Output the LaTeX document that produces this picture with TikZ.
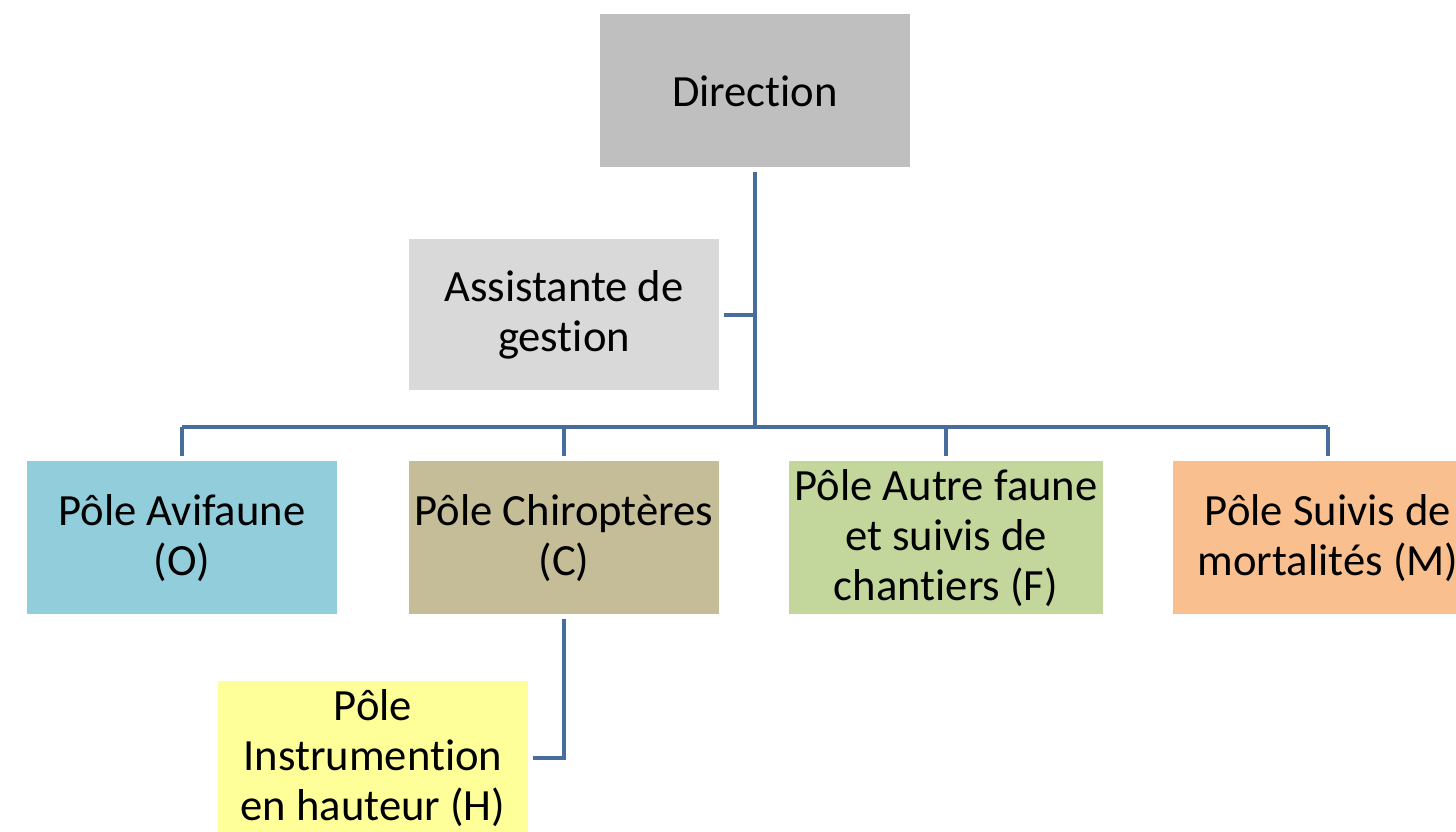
\documentclass[tikz,border=0pt]{standalone}
\usepackage{fontspec}
\setmainfont{Carlito}[Ligatures=NoCommon]
\usepackage{tikz}
\usetikzlibrary{positioning,calc}
\usepackage{xcolor}
\definecolor{dirgray}{RGB}{191,191,191}
\definecolor{assgray}{RGB}{217,217,217}
\definecolor{aviblue}{RGB}{146,205,220}
\definecolor{chitan}{RGB}{196,189,151}
\definecolor{autgreen}{RGB}{195,214,155}
\definecolor{suiorange}{RGB}{250,191,143}
\definecolor{hauyellow}{RGB}{255,255,153}
\definecolor{linkblue}{RGB}{72,108,156}

\begin{document}
\begin{tikzpicture}[every node/.style={font=\fontsize{25.4}{28.5}\selectfont},
    orgbox/.style={minimum width=6.2cm, minimum height=3.06cm, align=center, outer sep=0.1cm},
    link/.style={draw=linkblue, line width=2.3pt, line join=miter}]
    \useasboundingbox (0,0) rectangle (29.12,16.64);
    \clip (0,0) rectangle (29.12,16.64);
    \node[orgbox, fill=dirgray] (dir) at (15.1,14.82) {Direction};
    \node[orgbox, fill=assgray, minimum height=3.02cm] (ass) at (11.28,10.34) {Assistante de\\gestion};
    \node[orgbox, fill=aviblue] (avi) at (3.64,5.88) {Pôle Avifaune\\(O)};
    \node[orgbox, fill=chitan] (chi) at (11.28,5.88) {Pôle Chiroptères\\(C)};
    \node[orgbox, fill=autgreen] (aut) at (18.92,5.88) {Pôle Autre faune\\et suivis de\\chantiers (F)};
    \node[orgbox, fill=suiorange] (sui) at (26.56,5.88) {Pôle Suivis de\\mortalités (M)};
    \node[orgbox, fill=hauyellow] (hau) at (7.46,1.48) {Pôle\\Instrumention\\en hauteur (H)};
    \coordinate (bus) at (15.1,8.1);
    \draw[link] (dir.south) -- (bus);
    \draw[link] (ass.east) -- (ass.east -| bus);
    \draw[link] (avi.north |- bus) -- (sui.north |- bus);
    \foreach \p in {avi,chi,aut,sui}
        \draw[link] (\p.north |- bus) -- (\p.north);
    \draw[link] (chi.south) |- (hau.east);
\end{tikzpicture}
\end{document}
